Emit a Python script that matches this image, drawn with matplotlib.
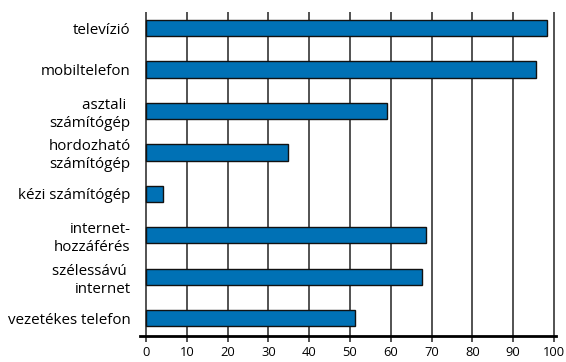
import matplotlib
matplotlib.use("Agg")
import matplotlib.pyplot as plt
import numpy as np

categories = ["televízió", "mobiltelefon", "asztali \nszámítógép", "hordozható\nszámítógép",
              "kézi számítógép", "internet-\nhozzáférés", "szélessávú \ninternet", "vezetékes telefon"]
values = [98.3, 95.6, 59.0, 34.7, 4.1, 68.7, 67.6, 51.3]
xticks = [0, 10, 20, 30, 40, 50, 60, 70, 80, 90, 100]

plt.rcParams['font.family'] = ['Open Sans', 'DejaVu Sans']

fig = plt.figure(figsize=(5.66, 3.62), dpi=100)
ax = fig.add_axes([0.2479, 0.0718, 0.7352, 0.8951])

y = np.arange(len(categories))
ax.barh(y, values, height=0.39, color="#0071B5", edgecolor="#111111", linewidth=1.0, zorder=3)

ax.set_xlim(-1.4, 100.6)
ax.set_ylim(len(categories) - 1 + 0.43, -0.39)
ax.set_xticks(xticks)
ax.set_xticklabels([str(t) for t in xticks], fontsize=9.3)
ax.set_yticks(y)
ax.set_yticklabels(categories, fontsize=10.9, linespacing=1.25, ha="right")
ax.tick_params(axis="y", length=0, pad=7)
ax.tick_params(axis="x", length=4, width=1.3, color="#444444", pad=3)

for t in xticks:
    ax.axvline(t, color="#444444", linewidth=1.3, zorder=1)

for s in ["top", "left", "right"]:
    ax.spines[s].set_visible(False)
ax.spines["bottom"].set_linewidth(2)
ax.spines["bottom"].set_color("black")
ax.spines["bottom"].set_zorder(4)

fig.savefig("out.png", dpi=100)
